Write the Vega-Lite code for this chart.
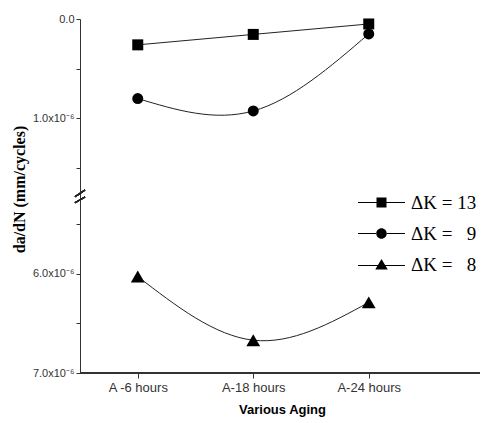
{
  "$schema": "https://vega.github.io/schema/vega-lite/v6.json",
  "width": 400,
  "height": 354,
  "autosize": {"type": "none"},
  "padding": {"left": 80, "top": 19, "right": 2, "bottom": 50},
  "background": "white",
  "config": {
    "view": {"stroke": null},
    "axis": {"grid": false, "domainColor": "#333", "tickColor": "#333", "labelColor": "#333", "titleColor": "#000"}
  },
  "data": {
    "values": [
      {"aging": "A -6 hours", "dk": 13, "dadn": 2.6e-7},
      {"aging": "A-18 hours", "dk": 13, "dadn": 1.55e-7},
      {"aging": "A-24 hours", "dk": 13, "dadn": 5e-8},
      {"aging": "A -6 hours", "dk": 9, "dadn": 8.0e-7},
      {"aging": "A-18 hours", "dk": 9, "dadn": 9.25e-7},
      {"aging": "A-24 hours", "dk": 9, "dadn": 1.5e-7},
      {"aging": "A -6 hours", "dk": 8, "dadn": 6.03e-6},
      {"aging": "A-18 hours", "dk": 8, "dadn": 6.67e-6},
      {"aging": "A-24 hours", "dk": 8, "dadn": 6.29e-6}
    ]
  },
  "encoding": {
    "y": {
      "field": "dadn", "type": "quantitative",
      "scale": {"domain": [0, 1.75e-6, 5.25e-6, 7e-6], "range": [0, 174, 180, 354], "zero": false, "nice": false},
      "axis": {
        "title": "da/dN (mm/cycles)",
        "values": [0, 5e-7, 1e-6, 1.5e-6, 5.5e-6, 6e-6, 6.5e-6, 7e-6],
        "labelExpr": "datum.value == 0 ? '0.0' : datum.value == 0.000001 ? '1.0x10⁻⁶' : datum.value == 0.000006 ? '6.0x10⁻⁶' : datum.value == 0.000007 ? '7.0x10⁻⁶' : ''",
        "labelFont": "Liberation Sans", "labelFontSize": 11, "labelPadding": 2, "tickSize": 4,
        "titleFont": "Liberation Serif", "titleFontSize": 16, "titleFontWeight": "bold", "titleX": -61, "titleY": 170, "titleAngle": -90, "titleBaseline": "middle", "titleAlign": "center"
      }
    }
  },
  "layer": [
    {
      "mark": {"type": "rule", "color": "#333", "strokeWidth": 1},
      "encoding": {"y": {"datum": 7e-6, "type": "quantitative"}}
    },
    {
      "encoding": {
        "x": {
          "field": "aging", "type": "nominal",
          "scale": {"type": "point", "range": [0, 346.5], "padding": 0.5},
          "axis": {
            "title": "Various Aging", "domain": false, "labelAngle": 0, "orient": "bottom",
            "labelFont": "Liberation Sans", "labelFontSize": 13, "labelPadding": 3, "tickSize": 5,
            "titleFont": "Liberation Sans", "titleFontSize": 13, "titleFontWeight": "bold", "titleX": 202, "titlePadding": 9
          }
        }
      },
      "layer": [
        {
          "mark": {"type": "line", "interpolate": "natural", "color": "#222", "strokeWidth": 1},
          "encoding": {"detail": {"field": "dk", "type": "nominal"}}
        },
        {
          "transform": [{"filter": "datum.dk == 13"}],
          "mark": {"type": "point", "shape": "square", "filled": true, "color": "black", "opacity": 1, "size": 121}
        },
        {
          "transform": [{"filter": "datum.dk == 9"}],
          "mark": {"type": "point", "shape": "circle", "filled": true, "color": "black", "opacity": 1, "size": 121}
        },
        {
          "transform": [{"filter": "datum.dk == 8"}],
          "mark": {"type": "point", "shape": "triangle-up", "filled": true, "color": "black", "opacity": 1, "size": 190}
        },
        {
          "mark": {"type": "point", "filled": true, "color": "black", "opacity": 0},
          "encoding": {
            "shape": {
              "field": "dk", "type": "nominal",
              "scale": {"domain": [13, 9, 8], "range": [
                "M-4.7,-0.1H-1V0.1H-4.7ZM1,-0.1H4.7V0.1H1ZM-1,-1H1V1H-1Z",
                "M-4.7,-0.1H-1V0.1H-4.7ZM1,-0.1H4.7V0.1H1ZM-1.05,0A1.05,1.05 0 1,0 1.05,0A1.05,1.05 0 1,0 -1.05,0Z",
                "M-4.7,0.1H-0.7V0.3H-4.7ZM0.7,0.1H4.7V0.3H0.7ZM0,-1.1L1.25,1L-1.25,1Z"
              ]},
              "legend": {
                "title": null, "orient": "none", "legendX": 292, "legendY": 174, "padding": 0,
                "symbolSize": 100, "symbolFillColor": "black", "symbolStrokeColor": "black", "symbolStrokeWidth": 0, "symbolOpacity": 1,
                "labelFont": "Liberation Serif", "labelFontSize": 19, "labelColor": "black", "labelOffset": 20, "rowPadding": 11,
                "labelExpr": "datum.value == 13 ? 'ΔK = 13' : datum.value == 9 ? 'ΔK = \u00a0\u00a09' : 'ΔK = \u00a0\u00a08'"
              }
            }
          }
        }
      ]
    },
    {
      "mark": {"type": "rule", "color": "#222", "strokeWidth": 1.2},
      "encoding": {
        "x": {"datum": -0.0125, "type": "quantitative", "scale": {"domain": [0, 1]}, "axis": null},
        "x2": {"datum": 0.0125},
        "y": {"datum": 3.9e-6, "type": "quantitative"},
        "y2": {"datum": 1.72e-6}
      }
    },
    {
      "mark": {"type": "rule", "color": "#222", "strokeWidth": 1.2},
      "encoding": {
        "x": {"datum": -0.0125, "type": "quantitative", "scale": {"domain": [0, 1]}, "axis": null},
        "x2": {"datum": 0.0125},
        "y": {"datum": 5.287e-6, "type": "quantitative"},
        "y2": {"datum": 4.08e-6}
      }
    }
  ],
  "resolve": {"scale": {"x": "independent"}}
}
